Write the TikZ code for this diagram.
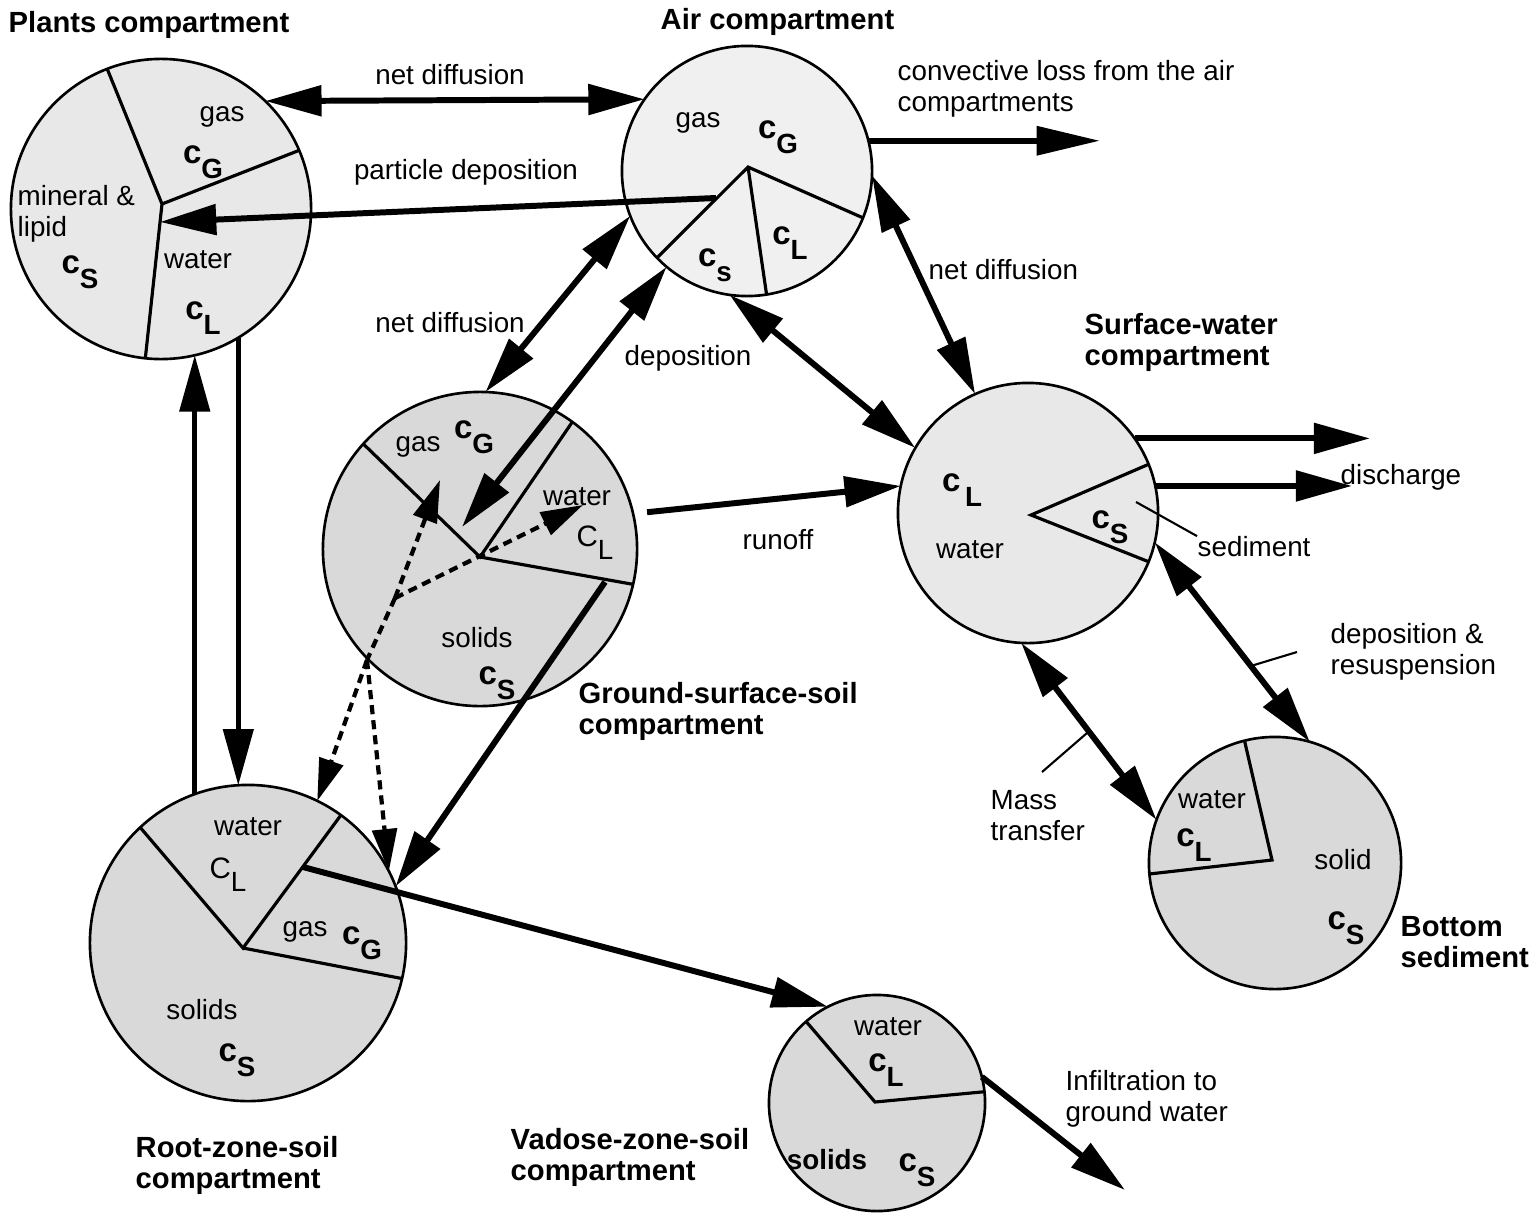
\documentclass[tikz,border=0pt]{standalone}
\usepackage{fontspec}
\setmainfont{Liberation Sans}
\usetikzlibrary{arrows.meta,calc}

\definecolor{airgray}{gray}{0.94}
\definecolor{plantgray}{gray}{0.91}
\definecolor{soilgray}{gray}{0.85}
\newcommand\conc[1]{{\fontsize{9.4}{9.4}\selectfont\bfseries c}\raisebox{-4.2pt}{\bfseries #1}}
\newcommand\concr[1]{{\fontsize{8.4}{8.4}\selectfont C}\raisebox{-3.6pt}{#1}}

\begin{document}
\begin{tikzpicture}[x=0.01cm,y=-0.01cm,>={Triangle[length=16pt,width=8.5pt]},
 font=\fontsize{7.9}{8.8}\selectfont,
 comp/.style={circle,draw,line width=0.75pt,inner sep=0pt,outer sep=0pt},
 pie/.style={line width=0.9pt},
 arr/.style={->,line width=1.7pt},
 darr/.style={<->,line width=1.7pt},
 varr/.style={->,line width=1.4pt},
 dsh/.style={line width=1.2pt,dash pattern=on 2.6pt off 1.7pt,>={Triangle[length=12pt,width=7pt]}},
 lead/.style={line width=0.6pt},
 lbl/.style={inner sep=0pt,align=left},
 ttl/.style={inner sep=0pt,align=left,anchor=west,font=\fontsize{8.3}{8.8}\selectfont\bfseries}]
\useasboundingbox (0,0) rectangle (1534,1215);
% compartments
\node[comp,fill=plantgray,minimum size=3cm] (plants) at (161,209) {};
\node[comp,fill=airgray,minimum size=2.5cm] (air) at (747,171) {};
\node[comp,fill=soilgray,minimum size=3.14cm] (ground) at (480,549) {};
\node[comp,fill=soilgray,minimum size=3.16cm] (root) at (248,943) {};
\node[comp,fill=plantgray,minimum size=2.6cm] (surf) at (1028,513) {};
\node[comp,fill=soilgray,minimum size=2.52cm] (bottom) at (1275,863) {};
\node[comp,fill=soilgray,minimum size=2.16cm] (vadose) at (877,1103) {};
\coordinate (pv) at (162,204);
\coordinate (av) at (748,167);
\coordinate (gv) at (480,557);
\coordinate (rv) at (243,948);
\coordinate (sv) at (1031,515);
\coordinate (bv) at (1272,860);
\coordinate (vv) at (875,1102);
\draw[pie] (plants.111.5) -- (pv) -- (plants.23) (pv) -- (plants.-96);
\draw[pie] (air.-136.6) -- (av) -- (air.-22) (av) -- (air.-81.7);
\draw[pie] (ground.138.5) -- (gv) -- (ground.54.4) (gv) -- (ground.-13);
\draw[pie] (root.133.5) -- (rv) -- (root.54) (rv) -- (root.-13.4);
\draw[pie] (surf.22) -- (sv) -- (surf.-22.8);
\draw[pie] (bottom.104.8) -- (bv) -- (bottom.-175);
\draw[pie] (vadose.131) -- (vv) -- (vadose.6.5);
% phases
\node[lbl] (plgas) at (222,117) {gas};
\node[lbl] (plcg) at (203,162) {\conc{G}};
\node[lbl,anchor=west] (plmin) at (17,214) {mineral \&\\lipid};
\node[lbl] (plcs) at (80,272) {\conc{S}};
\node[lbl] (plwat) at (198,260) {water};
\node[lbl] (plcl) at (203,318) {\conc{L}};
\node[lbl] (aigas) at (698,123) {gas};
\node[lbl] (aicg) at (778,137) {\conc{G}};
\node[lbl] (aicl) at (790,243) {\conc{L}};
\node[lbl] (aics) at (715,265) {\conc{s}};
\node[lbl] (grgas) at (418,447) {gas};
\node[lbl] (grcg) at (474,437) {\conc{G}};
\node[lbl] (grwat) at (577,497) {water};
\node[lbl] (grcl) at (595,543) {\concr{L}};
\node[lbl] (grsol) at (477,638) {solids};
\node[lbl] (grcs) at (497,683) {\conc{S}};
\node[lbl] (rowat) at (248,827) {water};
\node[lbl] (rocl) at (228,875) {\concr{L}};
\node[lbl] (rogas) at (305,932) {gas};
\node[lbl] (rocg) at (362,943) {\conc{G}};
\node[lbl] (rosol) at (202,1010) {solids};
\node[lbl] (rocs) at (237,1060) {\conc{S}};
\node[lbl] (sucl) at (962,490) {{\fontsize{9.4}{9.4}\selectfont\bfseries c}\,\raisebox{-4.2pt}{\bfseries L}};
\node[lbl] (suwat) at (970,550) {water};
\node[lbl] (sucs) at (1110,527) {\conc{S}};
\node[lbl] (bowat) at (1212,800) {water};
\node[lbl] (bocl) at (1194,845) {\conc{L}};
\node[lbl] (bosol) at (1343,860) {solid};
\node[lbl] (bocs) at (1346,928) {\conc{S}};
\node[lbl] (vawat) at (888,1027) {water};
\node[lbl] (vacl) at (886,1070) {\conc{L}};
\node[lbl] (vasol) at (827,1160) {\bfseries solids};
\node[lbl] (vacs) at (917,1170) {\conc{S}};
% titles
\node[ttl] (tplants) at (8,25) {Plants compartment};
\node[ttl] (tair) at (660,22) {Air compartment};
\node[ttl] (tsurf) at (1084,342) {Surface-water\\compartment};
\node[ttl] (tground) at (578,711) {Ground-surface-soil\\compartment};
\node[ttl] (troot) at (135,1165) {Root-zone-soil\\compartment};
\node[ttl] (tvadose) at (510,1157) {Vadose-zone-soil\\compartment};
\node[ttl] (tbottom) at (1400,942) {Bottom\\sediment};
% transfer labels
\node[lbl] (ndtop) at (450,75) {net diffusion};
\node[lbl,anchor=west] (conv) at (897,89) {convective loss from the air\\compartments};
\node[lbl] (pdep) at (466,172) {particle deposition};
\node[lbl] (ndmid) at (450,323) {net diffusion};
\node[lbl] (dep) at (688,358) {deposition};
\node[lbl,anchor=west] (ndright) at (928,270) {net diffusion};
\node[lbl] (runoff) at (778,540) {runoff};
\node[lbl,anchor=west] (disch) at (1340,477) {discharge};
\node[lbl,anchor=west] (sedlbl) at (1197,547) {sediment};
\node[lbl,anchor=west] (resus) at (1330,652) {deposition \&\\resuspension};
\node[lbl,anchor=west] (mass) at (990,816) {Mass\\transfer};
\node[lbl,anchor=west] (infil) at (1065,1099) {Infiltration to\\ground water};
% arrows
\coordinate (convend) at (1100,140);
\coordinate (dis1) at (1370,0);
\coordinate (dis2) at (1352,0);
\coordinate (pdstart) at (716,198);
\coordinate (pdtip) at (160,222);
\coordinate (deptip) at (462,527);
\coordinate (gsstart) at (605,582);
\coordinate (rvstart) at ($(rv)!0.61!(root.54)$);
\coordinate (infend) at (1125,1190);
\draw[darr] (plants.46) -- (air.145);
\draw[arr] (pdstart) -- (pdtip);
\draw[arr,>={Triangle[length=18pt,width=8pt]}] (air.14) -- (air.14 -| convend);
\draw[darr] (air.-159) -- (ground.88);
\draw[darr] (deptip) -- (air.-130);
\draw[darr] (air.-98) -- (surf.150);
\draw[darr] (air.-2) -- (surf.114);
\draw[arr,shorten <=4pt] (ground.13) -- (surf.168);
\draw[arr] (surf.35) -- (surf.35 -| dis1);
\draw[arr] (surf.12) -- (surf.12 -| dis2);
\draw[darr] (surf.-13) -- (bottom.74);
\draw[darr] (surf.-93) -- (bottom.160);
\draw[varr] (plants.-59) -- (plants.-59 |- root.94);
\draw[varr] (root.110 -| plants.-77) -- (plants.-77);
\draw[arr] (gsstart) -- (root.21);
\draw[arr] (rvstart) -- (vadose.117);
\draw[arr] (vadose.14) -- (infend);
% dashed paths in the soil
\coordinate (j1) at (395,598);
\coordinate (j2) at (367,660);
\coordinate (gastip) at (440,480);
\coordinate (wattip) at (583,505);
\draw[dsh,->] (j1) -- (gastip);
\draw[dsh,->] (j1) -- (wattip);
\draw[dsh] (j1) -- (j2);
\draw[dsh,->] (j2) -- (root.64);
\draw[dsh,->] (j2) -- (root.27);
% leaders
\coordinate (sedl) at (1136,502);
\coordinate (depl) at (1297,652);
\coordinate (massl) at (1042,772);
\draw[lead] (sedl) -- (sedlbl.north west);
\draw[lead] ($(surf.-13)!0.62!(bottom.74)$) -- (depl);
\draw[lead] ($(surf.-93)!0.5!(bottom.160)$) -- (massl);
\end{tikzpicture}
\end{document}
